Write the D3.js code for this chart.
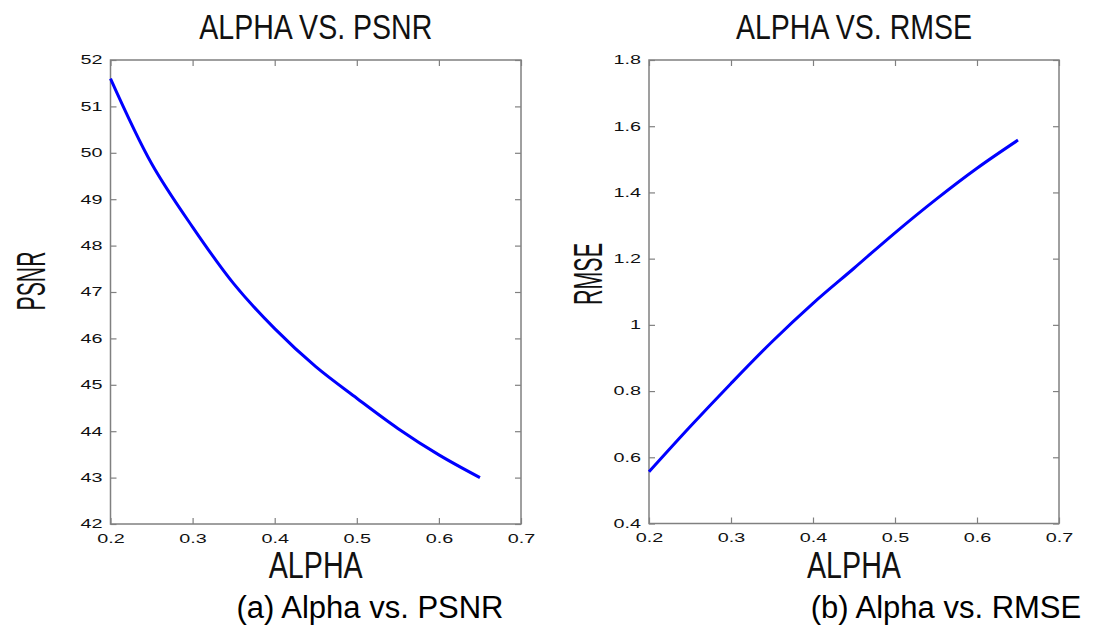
<!DOCTYPE html>
<html>
<head>
<meta charset="utf-8">
<script src="https://cdn.jsdelivr.net/npm/d3@7"></script>
<style>
  body { margin: 0; background: #fff; }
  text { font-family: "Liberation Sans", Arial, sans-serif; }
</style>
</head>
<body>
<div class="container"></div>
<script>
// values
var alpha = [0.2, 0.25, 0.3, 0.35, 0.4, 0.45, 0.5, 0.55, 0.6, 0.65];
var psnr  = [51.6, 49.77, 48.4, 47.18, 46.21, 45.39, 44.71, 44.06, 43.49, 43.0];
var rmse  = [0.556, 0.692, 0.823, 0.949, 1.065, 1.171, 1.278, 1.379, 1.473, 1.558];

var alphaTicks = [0.2, 0.3, 0.4, 0.5, 0.6, 0.7];
var psnrTicks  = [42, 43, 44, 45, 46, 47, 48, 49, 50, 51, 52];
var rmseTicks  = [0.4, 0.6, 0.8, 1, 1.2, 1.4, 1.6, 1.8];

var width = 1094, height = 628;
var tickLen = 6;
var stretch = 1.65; // tick labels are drawn wide in the original

var svg = d3.select(".container").append("svg")
    .attr("width", width).attr("height", height);

function drawPanel(p) {
    var x = d3.scaleLinear().domain([0.2, 0.7]).range([p.left, p.right]);
    var y = d3.scaleLinear().domain(p.yDomain).range([p.bottom, p.top]);
    var g = svg.append("g");

    // inward ticks on all four sides
    var xb = g.append("g").attr("transform", "translate(0," + p.bottom + ")")
        .call(d3.axisBottom(x).tickValues(alphaTicks).tickFormat(String)
            .tickSizeInner(-tickLen).tickSizeOuter(0).tickPadding(10));
    g.append("g").attr("transform", "translate(0," + p.top + ")")
        .call(d3.axisTop(x).tickValues(alphaTicks).tickFormat("")
            .tickSizeInner(-tickLen).tickSizeOuter(0));
    var yl = g.append("g").attr("transform", "translate(" + p.left + ",0)")
        .call(d3.axisLeft(y).tickValues(p.yTicks).tickFormat(String)
            .tickSizeInner(-tickLen).tickSizeOuter(0).tickPadding(8));
    g.append("g").attr("transform", "translate(" + p.right + ",0)")
        .call(d3.axisRight(y).tickValues(p.yTicks).tickFormat("")
            .tickSizeInner(-tickLen).tickSizeOuter(0));

    g.selectAll(".domain").remove();
    g.selectAll(".tick line").attr("stroke", "#808080").attr("stroke-width", 1.2);
    g.selectAll(".tick text").attr("font-size", 12).attr("fill", "#111")
        .attr("font-family", "Liberation Sans, Arial, sans-serif");
    xb.selectAll(".tick text").attr("transform", "scale(" + stretch + ",1)");
    yl.selectAll(".tick text").attr("x", -8 / stretch)
        .attr("transform", "scale(" + stretch + ",1)");

    g.append("rect")
        .attr("x", p.left).attr("y", p.top)
        .attr("width", p.right - p.left).attr("height", p.bottom - p.top)
        .attr("fill", "none").attr("stroke", "#808080").attr("stroke-width", 1.5);

    var line = d3.line()
        .x(function(d, i) { return x(alpha[i]); })
        .y(function(d) { return y(d); })
        .curve(d3.curveCatmullRom);
    g.append("path").datum(p.values)
        .attr("d", line)
        .attr("fill", "none").attr("stroke", "#0000ff").attr("stroke-width", 3);

    var cx = (p.left + p.right) / 2;
    g.append("text").attr("x", cx - p.titleW / 2).attr("y", 39)
        .attr("font-size", 35).attr("fill", "#111")
        .attr("textLength", p.titleW).attr("lengthAdjust", "spacingAndGlyphs")
        .text(p.title);
    g.append("text").attr("x", cx - 47).attr("y", 578)
        .attr("font-size", 37).attr("fill", "#111")
        .attr("textLength", 94).attr("lengthAdjust", "spacingAndGlyphs")
        .text("ALPHA");
    g.append("text")
        .attr("transform", "translate(" + p.ylabX + "," + (p.ylabY + p.ylabW / 2) + ") rotate(-90)")
        .attr("font-size", 41).attr("fill", "#111")
        .attr("textLength", p.ylabW).attr("lengthAdjust", "spacingAndGlyphs")
        .text(p.ylabel);
    g.append("text").attr("x", p.capX).attr("y", 618)
        .attr("font-size", 31).attr("fill", "#000")
        .attr("text-anchor", "middle")
        .text(p.caption);
}

drawPanel({
    left: 110.5, right: 521, top: 60, bottom: 524,
    yDomain: [42, 52], yTicks: psnrTicks, values: psnr,
    title: "ALPHA VS. PSNR", titleW: 233,
    ylabel: "PSNR", ylabX: 45, ylabY: 281, ylabW: 59,
    caption: "(a) Alpha vs. PSNR", capX: 370
});
drawPanel({
    left: 649, right: 1059, top: 60, bottom: 523.5,
    yDomain: [0.4, 1.8], yTicks: rmseTicks, values: rmse,
    title: "ALPHA VS. RMSE", titleW: 236,
    ylabel: "RMSE", ylabX: 602, ylabY: 274, ylabW: 62,
    caption: "(b) Alpha vs. RMSE", capX: 946
});
</script>
</body>
</html>
